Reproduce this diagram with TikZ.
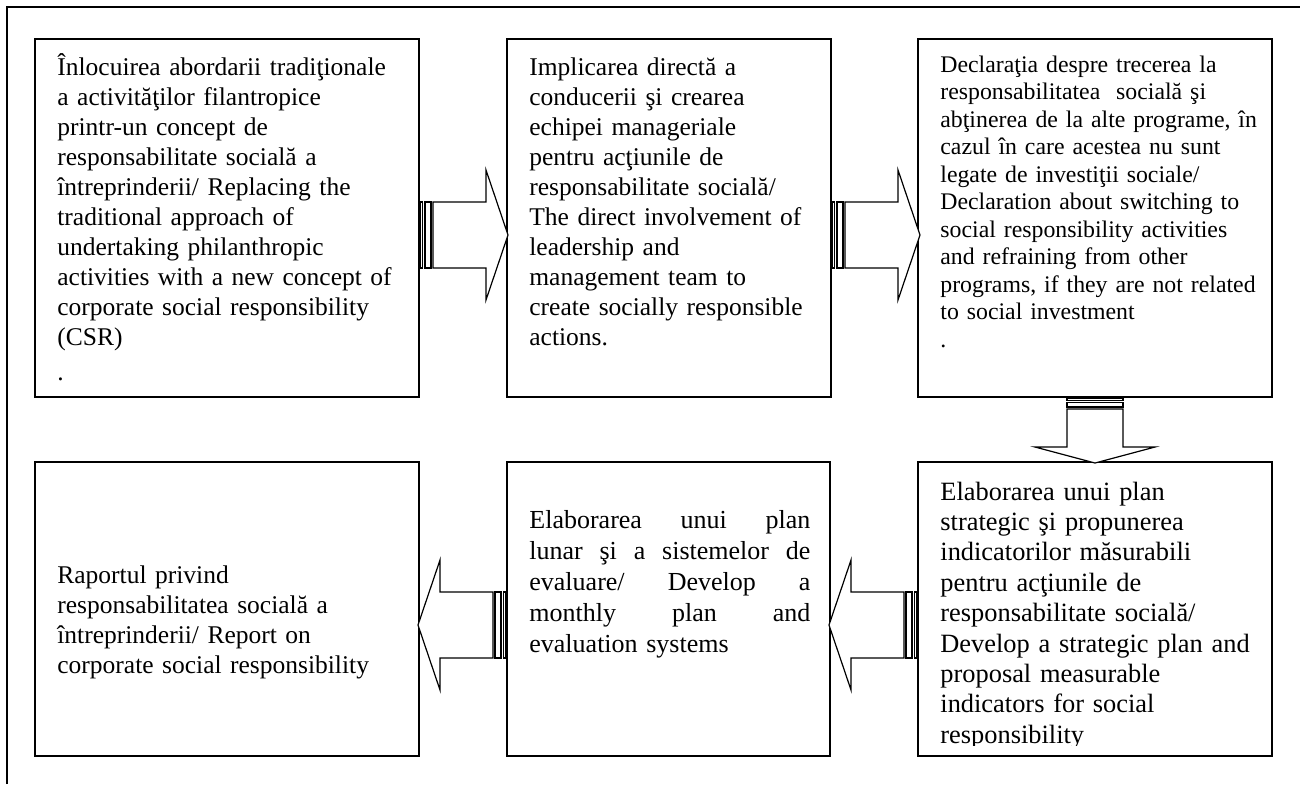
\documentclass[tikz,border=0pt]{standalone}
\usepackage{fontspec}
\setmainfont{Liberation Serif}
\usetikzlibrary{fit}
\begin{document}
\begin{tikzpicture}[x=0.5pt,y=-0.5pt,
  box/.style={draw, line width=1pt, inner sep=0pt, rectangle},
  arr/.style={draw, line width=0.6pt, fill=white, line join=miter},
  txt/.style={anchor=base west, inner sep=0pt, align=left, text width=#1},
  txt/.default=200pt,
  fbig/.style={font=\fontsize{12.75}{15}\selectfont},
  fsmall/.style={font=\fontsize{11.9}{13.75}\selectfont},
  arrowR/.pic={
    \draw[arr] (0,-33) rectangle (2.5,33);
    \draw[arr] (5,-33) rectangle (11,33);
    \draw[arr] (13,-33) -- (66,-33) -- (66,-65) -- (88,0) -- (66,65) -- (66,33) -- (13,33) -- cycle;
  },
  arrowL/.pic={
    \draw[arr] (0,-33) rectangle (-2.5,33);
    \draw[arr] (-5,-33) rectangle (-11,33);
    \draw[arr] (-13,-33) -- (-66,-33) -- (-66,-65) -- (-88,0) -- (-66,65) -- (-66,33) -- (-13,33) -- cycle;
  },
  arrowD/.pic={
    \draw[arr] (-28,0) rectangle (28,2.5);
    \draw[arr] (-28,4.5) rectangle (28,9);
    \draw[arr] (-28,11) -- (-28,49) -- (-60,49) -- (0,65) -- (60,49) -- (28,49) -- (28,11) -- cycle;
  }
]
\useasboundingbox (0,0) rectangle (1300,784);
\draw[line width=1pt] (6.5,784) -- (6.5,6.5) -- (1300,6.5);

% boxes
\node[box, fit={(35,39) (419,397)}] (b1) {};
\node[box, fit={(507,39) (831,397)}] (b2) {};
\node[box, fit={(918,39) (1272,397)}] (b3) {};
\node[box, fit={(918,462) (1272,756)}] (b4) {};
\node[box, fit={(507,462) (830,756)}] (b5) {};
\node[box, fit={(35,462) (419,756)}] (b6) {};

% texts
\node[txt, fbig] (t1) at (57,75) {Înlocuirea abordarii tradiţionale\\
a activităţilor filantropice\\
printr-un concept de\\
responsabilitate socială a\\
întreprinderii/ Replacing the\\
traditional approach of\\
undertaking philanthropic\\
activities with a new concept of\\
corporate social responsibility\\
(CSR)\\[2.5pt]
.};

\node[txt, fbig] (t2) at (529,75) {Implicarea directă a\\
conducerii şi crearea\\
echipei manageriale\\
pentru acţiunile de\\
responsabilitate socială/\\
The direct involvement of\\
leadership and\\
management team to\\
create socially responsible\\
actions.};

\node[txt, fsmall] (t3) at (940,72) {Declaraţia despre trecerea la\\
responsabilitatea\ \ socială şi\\
abţinerea de la alte programe, în\\
cazul în care acestea nu sunt\\
legate de investiţii sociale/\\
Declaration about switching to\\
social responsibility activities\\
and refraining from other\\
programs, if they are not related\\
to social investment\\
.};

\begin{scope}
\clip (918,462) rectangle (1272,745);
\node[txt, font=\fontsize{13.2}{15.2}\selectfont] (t4) at (940,500) {Elaborarea unui plan\\
strategic şi propunerea\\
indicatorilor măsurabili\\
pentru acţiunile de\\
responsabilitate socială/\\
Develop a strategic plan and\\
proposal measurable\\
indicators for social\\
responsibility};
\end{scope}

\node[txt=140.5pt, font=\fontsize{13}{15.5}\selectfont] (t5) at (529,528) {Elaborarea\hfill unui\hfill plan\\
lunar\hfill şi\hfill a\hfill sistemelor\hfill de\\
evaluare/\hfill Develop\hfill a\\
monthly\hfill plan\hfill and\\
evaluation systems};

\node[txt, font=\fontsize{12.75}{15}\selectfont] (t6) at (57,583) {Raportul privind\\
responsabilitatea socială a\\
întreprinderii/ Report on\\
corporate social responsibility};

% arrows
\coordinate (r1) at (0,235);
\coordinate (r2) at (0,625);
\pic at (b1.east |- r1) {arrowR};
\pic at (b2.east |- r1) {arrowR};
\pic at (b3.south) {arrowD};
\pic at (b4.west |- r2) {arrowL};
\pic at (b5.west |- r2) {arrowL};
\end{tikzpicture}
\end{document}
